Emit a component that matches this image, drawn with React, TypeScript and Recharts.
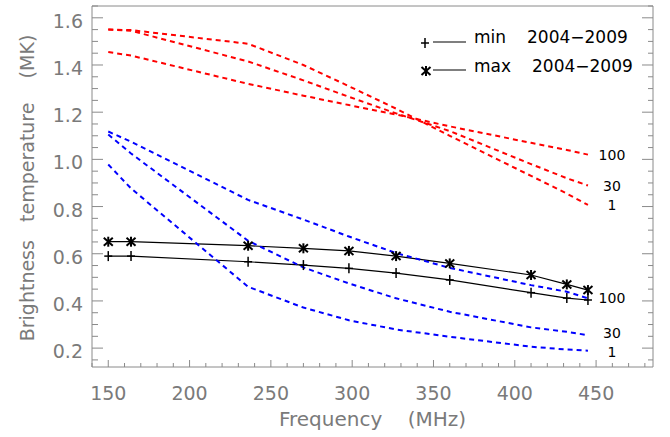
import React from "react";
import { LineChart, Line, XAxis, YAxis } from "recharts";

// frequencies of the radioheliograph channels (MHz)
const freqs = [150, 164, 236, 270, 298, 327, 360, 410, 432, 445];

// observed brightness temperature (MK)
const minObs = [0.59, 0.59, 0.566, 0.552, 0.538, 0.518, 0.489, 0.435, 0.412, 0.404];
const maxObs = [0.651, 0.651, 0.634, 0.623, 0.612, 0.59, 0.559, 0.51, 0.47, 0.446];

// model curves, red set
const red1 = [1.55, 1.548, 1.49, 1.4, 1.31, 1.215, 1.1, 0.93, 0.855, 0.807];
const red30 = [1.55, 1.545, 1.415, 1.335, 1.265, 1.195, 1.12, 0.98, 0.92, 0.889];
const red100 = [1.455, 1.44, 1.32, 1.27, 1.23, 1.19, 1.14, 1.07, 1.04, 1.02];

// model curves, blue set
const blue1 = [0.978, 0.877, 0.46, 0.372, 0.318, 0.279, 0.248, 0.206, 0.194, 0.189];
const blue30 = [1.105, 1.025, 0.655, 0.542, 0.474, 0.411, 0.354, 0.288, 0.269, 0.255];
const blue100 = [1.118, 1.075, 0.828, 0.745, 0.673, 0.603, 0.54, 0.467, 0.439, 0.411];

const xTicks = [
  140, 150, 160, 170, 180, 190, 200, 210, 220, 230, 240, 250, 260, 270, 280, 290, 300, 310,
  320, 330, 340, 350, 360, 370, 380, 390, 400, 410, 420, 430, 440, 450, 460, 470, 480,
];
const xMajor = [150, 200, 250, 300, 350, 400, 450];
const yTicks = [
  0.15, 0.2, 0.25, 0.3, 0.35, 0.4, 0.45, 0.5, 0.55, 0.6, 0.65, 0.7, 0.75, 0.8, 0.85, 0.9,
  0.95, 1.0, 1.05, 1.1, 1.15, 1.2, 1.25, 1.3, 1.35, 1.4, 1.45, 1.5, 1.55, 1.6, 1.65,
];
const yMajor = [0.2, 0.4, 0.6, 0.8, 1.0, 1.2, 1.4, 1.6];

const data = freqs.map((f, i) => ({
  f,
  minObs: minObs[i],
  maxObs: maxObs[i],
  red1: red1[i],
  red30: red30[i],
  red100: red100[i],
  blue1: blue1[i],
  blue30: blue30[i],
  blue100: blue100[i],
}));

const FRAME = "#8a8a8a";
const AXTXT = "#7a7a7a";
const FONT = "DejaVu Sans";
const last = freqs.length - 1;

const isMajorY = (v: number) => yMajor.some((m) => Math.abs(m - v) < 1e-6);

function BottomTick(p: any) {
  const v = p.payload.value;
  const major = xMajor.includes(v);
  return (
    <g>
      <line x1={p.x} x2={p.x} y1={p.y} y2={p.y - (major ? 7 : 4)} stroke={FRAME} />
      {major && (
        <text x={p.x} y={p.y + 33} textAnchor="middle" fontSize={19} fill={AXTXT} fontFamily={FONT}>
          {v}
        </text>
      )}
    </g>
  );
}

function TopTick(p: any) {
  const major = xMajor.includes(p.payload.value);
  return <line x1={p.x} x2={p.x} y1={p.y} y2={p.y + (major ? 7 : 4)} stroke={FRAME} />;
}

function LeftTick(p: any) {
  const v = p.payload.value;
  const major = isMajorY(v);
  return (
    <g>
      <line x1={p.x} x2={p.x + (major ? 11 : 6)} y1={p.y} y2={p.y} stroke={FRAME} />
      {major && (
        <text x={p.x - 9} y={p.y + 10} textAnchor="end" fontSize={19} fill={AXTXT} fontFamily={FONT}>
          {v.toFixed(1)}
        </text>
      )}
    </g>
  );
}

function RightTick(p: any) {
  const major = isMajorY(p.payload.value);
  return <line x1={p.x} x2={p.x - (major ? 11 : 5)} y1={p.y} y2={p.y} stroke={FRAME} />;
}

function Plus({ cx, cy }: { cx: number; cy: number }) {
  return (
    <g stroke="#000" strokeWidth={1.5}>
      <line x1={cx - 4} x2={cx + 4} y1={cy} y2={cy} />
      <line x1={cx} x2={cx} y1={cy - 5} y2={cy + 5} />
    </g>
  );
}

function Star({ cx, cy }: { cx: number; cy: number }) {
  return (
    <g stroke="#000" strokeWidth={2}>
      <line x1={cx} x2={cx} y1={cy - 5} y2={cy + 5} />
      <line x1={cx - 4.5} x2={cx + 4.5} y1={cy - 4} y2={cy + 4} />
      <line x1={cx - 4.5} x2={cx + 4.5} y1={cy + 4} y2={cy - 4} />
    </g>
  );
}

// only the last point of a model curve gets its label
const endLabel = (text: string, shift: number) => (p: any) =>
  p.index === last ? (
    <text
      key={p.index}
      x={p.cx + 24}
      y={p.cy + 5 + shift}
      textAnchor="middle"
      fontSize={14}
      fill="#000"
      fontFamily={FONT}
    >
      {text}
    </text>
  ) : (
    <g key={p.index} />
  );

const dashed = (key: string, color: string, label: string, shift = 0) => (
  <Line
    key={key}
    xAxisId="b"
    yAxisId="l"
    type="linear"
    dataKey={key}
    stroke={color}
    strokeWidth={2}
    strokeDasharray="5 4"
    dot={endLabel(label, shift)}
    activeDot={false}
    isAnimationActive={false}
  />
);

export default function App() {
  return (
    <div style={{ position: "absolute", left: 0, top: 0, width: 670, height: 437, background: "#fff" }}>
      <LineChart width={670} height={437} data={data} margin={{ top: 0, right: 0, bottom: 0, left: 0 }}>
        <XAxis
          xAxisId="b"
          dataKey="f"
          type="number"
          domain={[140, 485]}
          allowDataOverflow
          ticks={xTicks}
          interval={0}
          height={70}
          tickSize={0}
          tickMargin={0}
          tickLine={false}
          axisLine={{ stroke: FRAME }}
          tick={BottomTick}
          label={(props: any) => {
            const vb = props.viewBox;
            return (
              <text
                x={vb.x + vb.width / 2}
                y={426}
                textAnchor="middle"
                fontSize={20}
                fill={AXTXT}
                fontFamily={FONT}
                style={{ whiteSpace: "pre" }}
              >
                {"Frequency    (MHz)"}
              </text>
            );
          }}
        />
        <XAxis
          xAxisId="t"
          orientation="top"
          type="number"
          domain={[140, 485]}
          allowDataOverflow
          ticks={xTicks}
          interval={0}
          height={6}
          tickSize={0}
          tickMargin={0}
          tickLine={false}
          axisLine={{ stroke: FRAME }}
          tick={TopTick}
        />
        <YAxis
          yAxisId="l"
          type="number"
          domain={[0.12, 1.65]}
          allowDataOverflow
          ticks={yTicks}
          interval={0}
          width={92}
          tickSize={0}
          tickMargin={0}
          tickLine={false}
          axisLine={{ stroke: FRAME }}
          tick={LeftTick}
          label={() => (
            <text
              x={27}
              y={188}
              transform="rotate(-90 27 188)"
              textAnchor="middle"
              dominantBaseline="central"
              fontSize={19}
              fill={AXTXT}
              fontFamily={FONT}
              style={{ whiteSpace: "pre" }}
            >
              {"Brightness   temperature    (MK)"}
            </text>
          )}
        />
        <YAxis
          yAxisId="r"
          orientation="right"
          type="number"
          domain={[0.12, 1.65]}
          allowDataOverflow
          ticks={yTicks}
          interval={0}
          width={17}
          tickSize={0}
          tickMargin={0}
          tickLine={false}
          axisLine={{ stroke: FRAME }}
          tick={RightTick}
        />
        <Line
          xAxisId="b"
          yAxisId="l"
          type="linear"
          dataKey="minObs"
          stroke="#000"
          strokeWidth={1.2}
          dot={(p: any) => <Plus key={p.index} cx={p.cx} cy={p.cy} />}
          activeDot={false}
          isAnimationActive={false}
        />
        <Line
          xAxisId="b"
          yAxisId="l"
          type="linear"
          dataKey="maxObs"
          stroke="#000"
          strokeWidth={1.2}
          dot={(p: any) => <Star key={p.index} cx={p.cx} cy={p.cy} />}
          activeDot={false}
          isAnimationActive={false}
        />
        {dashed("red1", "#ff0000", "1")}
        {dashed("red30", "#ff0000", "30")}
        {dashed("red100", "#ff0000", "100")}
        {dashed("blue1", "#0000ff", "1", 1)}
        {dashed("blue30", "#0000ff", "30", -2)}
        {dashed("blue100", "#0000ff", "100")}
      </LineChart>
      <svg
        width={670}
        height={437}
        style={{ position: "absolute", left: 0, top: 0, pointerEvents: "none" }}
        fontFamily={FONT}
      >
        <Plus cx={425} cy={43} />
        <line x1={433} x2={466} y1={42} y2={42} stroke="#000" strokeWidth={1.2} />
        <text x={474} y={43} fontSize={17} fill="#000">min</text>
        <text x={527} y={43} fontSize={17} fill="#000">2004−2009</text>
        <Star cx={426} cy={71} />
        <line x1={433} x2={466} y1={70} y2={70} stroke="#000" strokeWidth={1.2} />
        <text x={474} y={72} fontSize={17} fill="#000">max</text>
        <text x={532} y={72} fontSize={17} fill="#000">2004−2009</text>
      </svg>
    </div>
  );
}
